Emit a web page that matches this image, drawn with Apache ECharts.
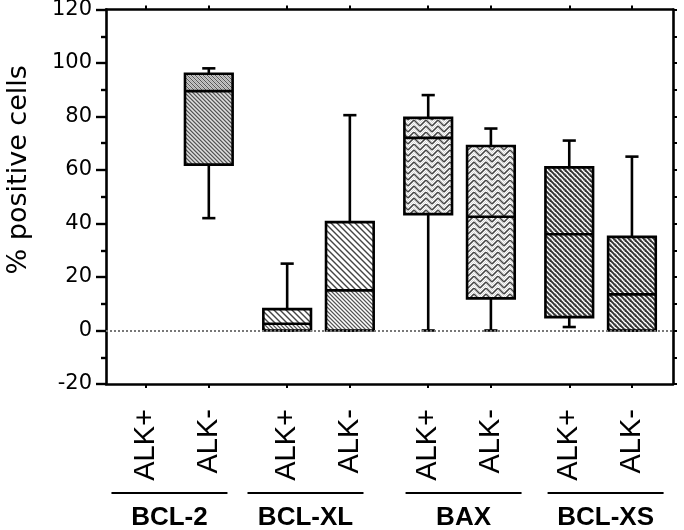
<!DOCTYPE html>
<html><head><meta charset="utf-8">
<script src="https://cdn.jsdelivr.net/npm/echarts@6/dist/echarts.min.js"></script>
<style>html,body{margin:0;padding:0;background:#fff}#c{width:684px;height:530px}</style>
</head><body><div id="c"></div>
<script>
// ---- data ----
const groups = ['BCL-2', 'BCL-XL', 'BAX', 'BCL-XS'];
const subgroups = ['ALK+', 'ALK-'];
const yTicks = [-20, 0, 20, 40, 60, 80, 100, 120];
const yAxisTitle = '% positive cells';
// each box: [lower whisker, Q1, median, Q3, upper whisker]; null = no box
const bcl2  = [null, [42, 62, 89.5, 96, 98]];
const bclxl = [[0, 0, 2.5, 8, 25], [0, 0, 15, 40.5, 80.5]];
const bax   = [[0, 43.5, 72, 79.5, 88], [0, 12, 42.5, 69, 75.5]];
const bclxs = [[1.3, 5, 36, 61, 71], [0, 0, 13.5, 35, 65]];
const boxes = [bcl2, bclxl, bax, bclxs];

// ---- layout helpers ----
const GROUP_STEP = 2.25;
const xPos = (g, m) => g * GROUP_STEP + m;
const X_MIN = -0.64, X_MAX = 8.405;
const groupLabelShift = [-8, -13, 4, 5]; // px, label block offset vs. box pair

const positions = [], labelFor = {};
groups.forEach((g, gi) => subgroups.forEach((s, si) => {
  const p = xPos(gi, si);
  positions.push(p);
  labelFor[p.toFixed(3)] = s;
}));

// ---- patterns ----
function tile(size, draw) {
  const c = document.createElement('canvas');
  c.width = size; c.height = size;
  const ctx = c.getContext('2d');
  ctx.fillStyle = '#fff'; ctx.fillRect(0, 0, size, size);
  draw(ctx, size);
  return { image: c, repeat: 'repeat' };
}
function diag(ctx, s, color, w) {
  ctx.strokeStyle = color; ctx.lineWidth = w; ctx.lineCap = 'square';
  for (const x0 of [-s, 0, s]) {
    ctx.beginPath(); ctx.moveTo(x0, 0); ctx.lineTo(x0 + s, s); ctx.stroke();
  }
}
function pix(ctx, s, fn) {
  for (let y = 0; y < s; y++) for (let x = 0; x < s; x++) {
    const c = fn(x, y); if (c) { ctx.fillStyle = c; ctx.fillRect(x, y, 1, 1); }
  }
}
const patBcl2Up = tile(4, (ctx, s) => pix(ctx, s, (x, y) => {
  const d = (x - y + 8) % 4;
  return d === 0 ? '#555' : (d === 2 && (x + y) % 2 === 0 ? '#aaa' : ((x + y) % 2 ? '#c8c8c8' : null));
}));
const patBcl2Lo = tile(4, (ctx, s) => pix(ctx, s, (x, y) => {
  const d = (x - y + 8) % 4;
  return d === 0 ? '#555' : (d === 1 ? '#999' : ((x + y) % 2 ? '#bbb' : '#ddd'));
}));
const patXlUp = tile(6, (ctx, s) => diag(ctx, s, '#444', 1.4));
const patXlLo = tile(4, (ctx, s) => pix(ctx, s, (x, y) => {
  const d = (x - y + 8) % 4;
  return d === 0 ? '#555' : ((x + y) % 2 ? '#bbb' : null);
}));
const patBax = tile(12, (ctx, s) => {
  pix(ctx, s, (x, y) => ((x + y) % 2 === 0 ? '#d4d4d4' : null));
  ctx.strokeStyle = '#444'; ctx.lineWidth = 1.4;
  const seg = (a, b, c, d) => { ctx.beginPath(); ctx.moveTo(a, b); ctx.lineTo(c, d); ctx.stroke(); };
  seg(0, 6, 6, 0); seg(6, 0, 12, 6);
  seg(0, 12, 6, 6); seg(6, 6, 12, 12);
  seg(-6, 6, 0, 0); seg(12, 0, 18, 6);
});
const patXs = tile(5, (ctx, s) => {
  pix(ctx, s, (x, y) => ((x + y) % 2 ? '#ccc' : null));
  diag(ctx, s, '#333', 1.8);
});
const patterns = [[patBcl2Up, patBcl2Lo], [patXlUp, patXlLo], [patBax, patBax], [patXs, patXs]];

// ---- series data ----
const boxData = [];
boxes.forEach((arr, gi) => arr.forEach((b, si) => {
  if (b) boxData.push([xPos(gi, si), ...b, gi]);
}));

const FONT = 'Liberation Sans, Arial, Helvetica, sans-serif';
const chart = echarts.init(document.getElementById('c'), null, { renderer: 'canvas' });

function renderBox(params, api) {
  const x = api.value(0);
  const lo = api.coord([x, api.value(1)]);
  const q1 = api.coord([x, api.value(2)]);
  const md = api.coord([x, api.value(3)]);
  const q3 = api.coord([x, api.value(4)]);
  const hi = api.coord([x, api.value(5)]);
  const gi = api.value(6);
  const unit = api.size([1, 0])[0];
  const hw = unit * 0.38, cw = unit * 0.105;
  const cx = lo[0];
  const lw = 2.6;
  const ls = { stroke: '#000', lineWidth: lw, fill: null };
  return {
    type: 'group',
    children: [
      { type: 'line', shape: { x1: cx, y1: hi[1], x2: cx, y2: q3[1] }, style: ls },
      { type: 'line', shape: { x1: cx, y1: q1[1], x2: cx, y2: lo[1] }, style: ls },
      { type: 'line', shape: { x1: cx - cw, y1: hi[1], x2: cx + cw, y2: hi[1] }, style: ls },
      { type: 'line', shape: { x1: cx - cw, y1: lo[1], x2: cx + cw, y2: lo[1] }, style: ls },
      { type: 'rect', shape: { x: cx - hw, y: q3[1], width: 2 * hw, height: md[1] - q3[1] }, style: { fill: patterns[gi][0] } },
      { type: 'rect', shape: { x: cx - hw, y: md[1], width: 2 * hw, height: q1[1] - md[1] }, style: { fill: patterns[gi][1] } },
      { type: 'rect', shape: { x: cx - hw, y: q3[1], width: 2 * hw, height: q1[1] - q3[1] }, style: ls },
      { type: 'line', shape: { x1: cx - hw, y1: md[1], x2: cx + hw, y2: md[1] }, style: ls }
    ]
  };
}

const axisLineStyle = { color: '#000', width: 2.6 };
chart.setOption({
  animation: false,
  backgroundColor: '#fff',
  grid: { left: 106, right: 11, top: 9.5, bottom: 146, containLabel: false, outerBoundsMode: 'none' },
  xAxis: [
    {
      type: 'value', position: 'bottom', min: X_MIN, max: X_MAX,
      axisLine: { show: true, onZero: false, lineStyle: axisLineStyle },
      axisTick: { show: true, customValues: positions, length: 4, lineStyle: { width: 2, color: '#000' } },
      axisLabel: {
        show: true, customValues: positions, rotate: 90, margin: 25,
        fontFamily: FONT, fontSize: 29, color: '#000',
        formatter: v => labelFor[Number(v).toFixed(3)] || ''
      },
      splitLine: { show: false }
    },
    {
      type: 'value', position: 'top', min: X_MIN, max: X_MAX,
      axisLine: { show: true, onZero: false, lineStyle: axisLineStyle },
      axisTick: { show: true, customValues: positions, length: 4, lineStyle: { width: 2, color: '#000' } },
      axisLabel: { show: false },
      splitLine: { show: false }
    }
  ],
  yAxis: [
    {
      type: 'value', position: 'left', min: yTicks[0], max: yTicks[yTicks.length - 1], interval: 20,
      name: yAxisTitle, nameLocation: 'middle', nameGap: 74,
      nameTextStyle: { fontFamily: 'DejaVu Sans, ' + FONT, fontSize: 27, color: '#000', padding: [0, 0, 0, 54] },
      axisLine: { show: true, onZero: false, lineStyle: axisLineStyle },
      axisTick: { show: true, length: 10, lineStyle: { width: 2.4, color: '#000' } },
      minorTick: { show: true, splitNumber: 2, length: 5, lineStyle: { width: 2.4, color: '#000' } },
      axisLabel: { fontFamily: 'DejaVu Sans, ' + FONT, fontSize: 21, color: '#000', margin: 14 },
      splitLine: { show: false }
    },
    {
      type: 'value', position: 'right', min: yTicks[0], max: yTicks[yTicks.length - 1], interval: 20,
      axisLine: { show: true, onZero: false, lineStyle: axisLineStyle },
      axisTick: { show: true, length: 4, lineStyle: { width: 2, color: '#000' } },
      minorTick: { show: true, splitNumber: 2, length: 4, lineStyle: { width: 2, color: '#000' } },
      axisLabel: { show: false },
      splitLine: { show: false }
    }
  ],
  series: [
    {
      type: 'line', data: [], xAxisIndex: 0, yAxisIndex: 0, z: 1,
      markLine: {
        silent: true, symbol: 'none', label: { show: false },
        lineStyle: { type: [2, 2], color: '#777', width: 2 },
        data: [{ yAxis: 0 }]
      }
    },
    {
      type: 'custom', xAxisIndex: 0, yAxisIndex: 0, z: 3,
      renderItem: renderBox, data: boxData,
      encode: { x: 0, y: [1, 2, 3, 4, 5] }, clip: false
    }
  ]
});

// group labels under the categories
const gfx = [];
const halfLine = 58;
groups.forEach((g, gi) => {
  const c = chart.convertToPixel({ xAxisIndex: 0 }, (xPos(gi, 0) + xPos(gi, 1)) / 2) + groupLabelShift[gi];
  gfx.push({ type: 'line', shape: { x1: c - halfLine, y1: 493, x2: c + halfLine, y2: 493 }, style: { stroke: '#000', lineWidth: 2 } });
  gfx.push({ type: 'text', x: c, y: 518, style: { text: g, fontFamily: 'Liberation Sans Narrow, ' + FONT, fontWeight: 'bold', fontSize: 26, fill: '#000', align: 'center', verticalAlign: 'middle' } });
});
chart.setOption({ graphic: gfx });
</script>
</body></html>
